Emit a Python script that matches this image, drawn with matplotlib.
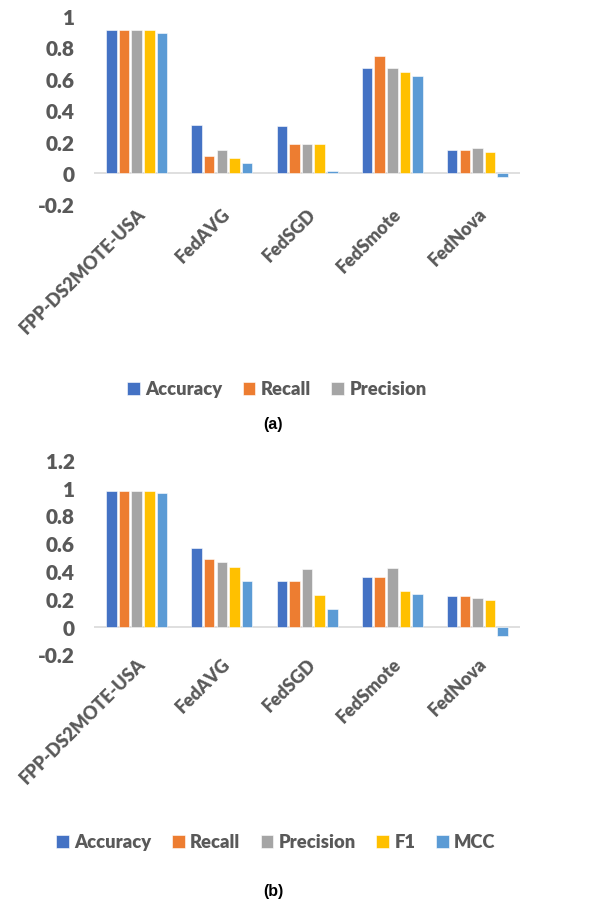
import matplotlib
matplotlib.use("Agg")
import matplotlib.pyplot as plt
import numpy as np

plt.rcParams['font.family'] = ['Lato', 'DejaVu Sans']

categories = ["FPP-DS2MOTE-USA", "FedAVG", "FedSGD", "FedSmote", "FedNova"]
metrics = ["Accuracy", "Recall", "Precision", "F1", "MCC"]
colors = ["#4472C4", "#ED7D31", "#A5A5A5", "#FFC000", "#5B9BD5"]

# (a)
a_accuracy = [0.91, 0.305, 0.30, 0.667, 0.146]
a_recall = [0.91, 0.11, 0.182, 0.746, 0.146]
a_precision = [0.91, 0.146, 0.182, 0.667, 0.161]
a_f1 = [0.91, 0.095, 0.182, 0.646, 0.131]
a_mcc = [0.89, 0.061, 0.01, 0.617, -0.025]

# (b)
b_accuracy = [0.977, 0.563, 0.328, 0.354, 0.218]
b_recall = [0.977, 0.484, 0.328, 0.354, 0.218]
b_precision = [0.977, 0.467, 0.414, 0.424, 0.208]
b_f1 = [0.977, 0.431, 0.225, 0.259, 0.189]
b_mcc = [0.96, 0.328, 0.129, 0.235, -0.065]

a_ticks = [-0.2, 0, 0.2, 0.4, 0.6, 0.8, 1]
b_ticks = [-0.2, 0, 0.2, 0.4, 0.6, 0.8, 1, 1.2]

fig = plt.figure(figsize=(5.95, 9.04), dpi=100)
ax1 = fig.add_axes([0.158, 0.7727, 0.716, 0.2085])
ax2 = fig.add_axes([0.158, 0.2749, 0.716, 0.2155])

gray = "#595959"
W = "heavy"

def draw(ax, series, ticks, ylim):
    x = np.arange(len(categories))
    step = 0.148
    width = 0.124
    bars = []
    for i, (vals, c) in enumerate(zip(series, colors)):
        b = ax.bar(x + (i - 2) * step, vals, width, color=c, edgecolor="white", linewidth=0.4, zorder=3)
        bars.append(b)
    ax.set_xlim(-0.5, len(categories) - 0.5)
    ax.set_ylim(*ylim)
    ax.set_yticks(ticks)
    ax.set_yticklabels([("%g" % t) for t in ticks], fontsize=15, fontweight=W, color=gray)
    ax.set_xticks(x)
    ax.set_xticklabels(categories, rotation=45, ha="right", va="top", rotation_mode="anchor",
                       fontsize=13, fontweight=W, color=gray)
    ax.tick_params(axis="y", length=0, pad=14)
    ax.tick_params(axis="x", length=0, pad=0)
    for s in ax.spines.values():
        s.set_visible(False)
    ax.axhline(0, color="#D9D9D9", linewidth=1.2, zorder=2)
    return bars

bars1 = draw(ax1, [a_accuracy, a_recall, a_precision, a_f1, a_mcc], a_ticks, (-0.2, 1.0))
bars2 = draw(ax2, [b_accuracy, b_recall, b_precision, b_f1, b_mcc], b_ticks, (-0.2, 1.2))

leg_kw = dict(frameon=False, ncol=5, handlelength=0.7, handleheight=0.7, handletextpad=0.3,
              columnspacing=1.1, prop={"weight": W, "size": 13.2}, labelcolor=gray)
fig.legend(bars1[:3], metrics[:3], loc="center", bbox_to_anchor=(277 / 595, 1 - 390 / 904), **leg_kw)
fig.legend(bars2, metrics, loc="center", bbox_to_anchor=(276 / 595, 1 - 843 / 904), **leg_kw)

fig.text(273 / 595, 1 - 425 / 904, "(a)", ha="center", va="center", fontsize=11.5,
         fontweight="bold", color="black", family="Liberation Sans")
fig.text(273 / 595, 1 - 892 / 904, "(b)", ha="center", va="center", fontsize=11.5,
         fontweight="bold", color="black", family="Liberation Sans")

fig.savefig("out.png", dpi=100)
